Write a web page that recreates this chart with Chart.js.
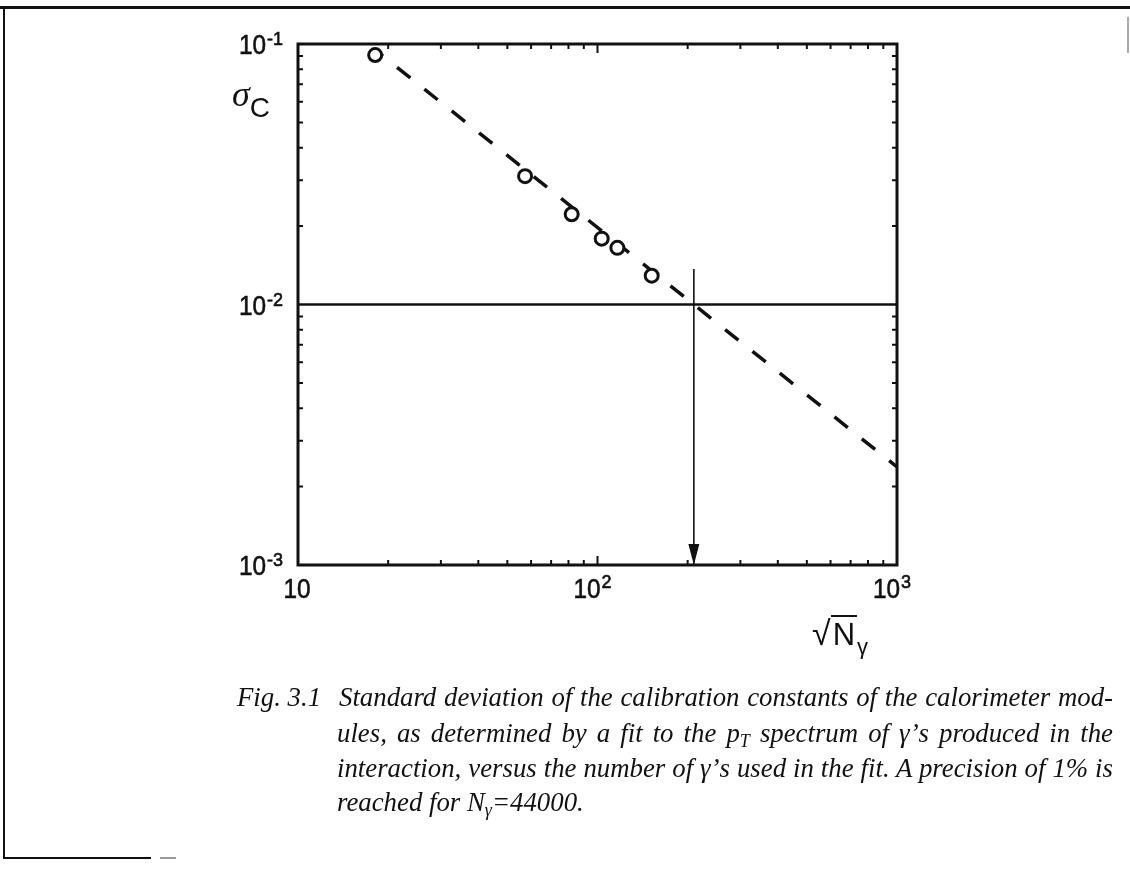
<!DOCTYPE html>
<html>
<head>
<meta charset="utf-8">
<title>Calibration constants</title>
<script src="https://cdn.jsdelivr.net/npm/chart.js@4.4.1/dist/chart.umd.min.js"></script>
<style>
  html, body { margin: 0; padding: 0; background: #fff; }
  #page { position: relative; width: 1130px; height: 873px; overflow: hidden; color: #111; }
  #plot-wrap { position: absolute; left: 0; top: 0; width: 1130px; height: 873px; }
  .rule { position: absolute; background: #111; }
  .axis-title { position: absolute; white-space: nowrap; }
  .cap { position: absolute; font-family: "Liberation Serif", serif; font-style: italic;
         font-size: 26.8px; line-height: 30px; height: 30px; white-space: nowrap; }
  .cap.just { text-align: justify; text-align-last: justify; }
  .cap sub { font-size: 18px; vertical-align: -5px; line-height: 0; }
</style>
</head>
<body>
<div id="page">
  <div id="plot-wrap"><canvas id="chart"></canvas></div>

  <!-- page frame -->
  <div class="rule" style="left:0; top:6px; width:1130px; height:3px;"></div>
  <div class="rule" style="left:3px; top:7px; width:2px; height:852px;"></div>
  <div class="rule" style="left:3px; top:857px; width:148px; height:2px;"></div>
  <div class="rule" style="left:160px; top:857px; width:16px; height:2px; background:#999;"></div>
  <div class="rule" style="left:1127px; top:17px; width:2px; height:36px; background:#aaa;"></div>

  <!-- axis titles -->
  <div class="axis-title" style="left:232px; top:77px; line-height:34px;">
    <span style="font-family:'Liberation Serif',serif; font-style:italic; font-size:36px;">σ</span><span style="font-family:'Liberation Sans',sans-serif; font-size:28px; position:relative; top:11px;">C</span>
  </div>
  <div class="axis-title" style="left:812px; top:616px; line-height:34px; font-family:'Liberation Sans',sans-serif;">
    <span style="font-size:34px;">√</span><span style="font-size:31px; border-top:2px solid #111; padding:0 2px;">N</span><span style="font-size:22px; position:relative; top:9px;">γ</span>
  </div>

  <!-- figure caption -->
  <div class="cap" style="left:237px; top:682px;">Fig. 3.1</div>
  <div class="cap just" style="left:339px; top:682px; width:774px;">Standard deviation of the calibration constants of the calorimeter mod-</div>
  <div class="cap just" style="left:337px; top:718px; width:776px;">ules, as determined by a fit to the <span style="font-style:italic">p</span><sub>T</sub> spectrum of γ’s produced in the</div>
  <div class="cap just" style="left:337px; top:753px; width:776px;">interaction, versus the number of γ’s used in the fit. A precision of 1% is</div>
  <div class="cap" style="left:337px; top:787px;">reached for N<sub>γ</sub>=44000.</div>
</div>

<script>
// measured points: sqrt(N_gamma) vs sigma_C
const sqrtN = [18.1, 57.3, 82.0, 103.3, 116.5, 151.7];
const sigmaC = [0.0907, 0.0311, 0.0222, 0.0179, 0.0165, 0.0129];

// fitted 1/sqrt(N)-like line
const fitX = [18.1, 1000];
const fitY = [0.0950, 0.00238];

// 1% precision marker, reached at sqrt(44000)
const targetSigma = 0.01;
const targetSqrtN = Math.sqrt(44000);
const arrowFrom = 0.0137;

// axis ranges and labelled decades
const xRange = [10, 1000];
const yRange = [0.001, 0.1];
const xTicks = [10, 100, 1000];
const xTickExp = ['', '2', '3'];
const yTicks = [0.1, 0.01, 0.001];
const yTickExp = ['-1', '-2', '-3'];
const minorSteps = [2, 3, 4, 5, 6, 7, 8, 9];

const INK = '#111';

function toXY(xs, ys) {
    return xs.map((x, i) => ({ x: x, y: ys[i] }));
}

// tick values between decades of a log axis
function minorValues(range) {
    const out = [];
    for (let d = range[0]; d < range[1] - 1e-12; d *= 10) {
        minorSteps.forEach(m => out.push(d * m));
    }
    return out;
}

// frame, inward ticks, arrow head and decade labels
const axesPlugin = {
    id: 'axesPlugin',
    afterDraw(chart) {
        const ctx = chart.ctx;
        const xs = chart.scales.x;
        const ys = chart.scales.y;
        const a = chart.chartArea;

        ctx.save();
        ctx.strokeStyle = INK;
        ctx.fillStyle = INK;

        // ticks pointing into the plot on all four sides
        ctx.lineWidth = 2;
        ctx.beginPath();
        minorValues(xRange).forEach(v => {
            const px = xs.getPixelForValue(v);
            ctx.moveTo(px, a.bottom); ctx.lineTo(px, a.bottom - 5);
            ctx.moveTo(px, a.top); ctx.lineTo(px, a.top + 5);
        });
        minorValues(yRange).forEach(v => {
            const py = ys.getPixelForValue(v);
            ctx.moveTo(a.left, py); ctx.lineTo(a.left + 5, py);
            ctx.moveTo(a.right, py); ctx.lineTo(a.right - 5, py);
        });
        xTicks.slice(1, -1).forEach(v => {
            const px = xs.getPixelForValue(v);
            ctx.moveTo(px, a.bottom); ctx.lineTo(px, a.bottom - 9);
            ctx.moveTo(px, a.top); ctx.lineTo(px, a.top + 9);
        });
        ctx.stroke();

        // plot frame
        ctx.lineWidth = 3;
        ctx.strokeRect(a.left, a.top, a.right - a.left, a.bottom - a.top);

        // arrow head at the bottom of the marker line
        const ax = xs.getPixelForValue(targetSqrtN);
        const ay = ys.getPixelForValue(yRange[0]);
        ctx.beginPath();
        ctx.moveTo(ax, ay);
        ctx.lineTo(ax - 5.5, ay - 21);
        ctx.lineTo(ax + 5.5, ay - 21);
        ctx.closePath();
        ctx.fill();

        // decade labels 10^n
        const mainFont = '28px "Liberation Sans", Arial, sans-serif';
        const supFont = '18px "Liberation Sans", Arial, sans-serif';
        const squeeze = 0.87;
        ctx.textBaseline = 'alphabetic';
        ctx.textAlign = 'left';
        ctx.lineWidth = 0.6;

        function widths(exp) {
            ctx.font = mainFont;
            const w10 = ctx.measureText('10').width * squeeze;
            ctx.font = supFont;
            const wSup = exp ? ctx.measureText(exp).width : 0;
            return [w10, wSup];
        }
        function drawLabel(exp, left, base, supBase) {
            const [w10] = widths(exp);
            ctx.font = mainFont;
            ctx.save();
            ctx.translate(left, base);
            ctx.scale(squeeze, 1);
            ctx.fillText('10', 0, 0);
            ctx.strokeText('10', 0, 0);
            ctx.restore();
            if (exp) {
                ctx.font = supFont;
                ctx.fillText(exp, left + w10 + 1, supBase);
                ctx.strokeText(exp, left + w10 + 1, supBase);
            }
        }

        yTicks.forEach((v, i) => {
            const py = ys.getPixelForValue(v);
            const [w10, wSup] = widths(yTickExp[i]);
            drawLabel(yTickExp[i], 283 - w10 - wSup - 1, py + 10, py + 1);
        });
        xTicks.forEach((v, i) => {
            const px = xs.getPixelForValue(v);
            const [w10, wSup] = widths(xTickExp[i]);
            const total = w10 + (wSup ? wSup + 1 : 0);
            const shift = xTickExp[i] ? 5 : 1;
            drawLabel(xTickExp[i], px - total / 2 - shift, a.bottom + 33, a.bottom + 23);
        });

        ctx.restore();
    }
};

new Chart(document.getElementById('chart'), {
    type: 'scatter',
    data: {
        datasets: [{
            label: 'measured',
            data: toXY(sqrtN, sigmaC),
            pointRadius: 6.5,
            pointBorderWidth: 3,
            pointBorderColor: INK,
            pointBackgroundColor: '#fff',
            order: 0
        }, {
            label: 'fit',
            data: toXY(fitX, fitY),
            showLine: true,
            borderColor: INK,
            borderWidth: 3.5,
            borderDash: [17, 18],
            borderDashOffset: 7,
            pointRadius: 0,
            order: 2
        }, {
            label: '1% level',
            data: toXY(xRange, [targetSigma, targetSigma]),
            showLine: true,
            borderColor: INK,
            borderWidth: 2.5,
            pointRadius: 0,
            order: 3
        }, {
            label: 'required N',
            data: toXY([targetSqrtN, targetSqrtN], [arrowFrom, yRange[0]]),
            showLine: true,
            borderColor: INK,
            borderWidth: 1.6,
            pointRadius: 0,
            order: 3
        }]
    },
    options: {
        responsive: true,
        maintainAspectRatio: false,
        animation: false,
        devicePixelRatio: 1,
        layout: { padding: { left: 298, right: 233, top: 44, bottom: 308 } },
        plugins: {
            legend: { display: false },
            tooltip: { enabled: false }
        },
        events: [],
        scales: {
            x: { type: 'logarithmic', min: xRange[0], max: xRange[1], display: false },
            y: { type: 'logarithmic', min: yRange[0], max: yRange[1], display: false }
        }
    },
    plugins: [axesPlugin]
});
</script>
</body>
</html>
